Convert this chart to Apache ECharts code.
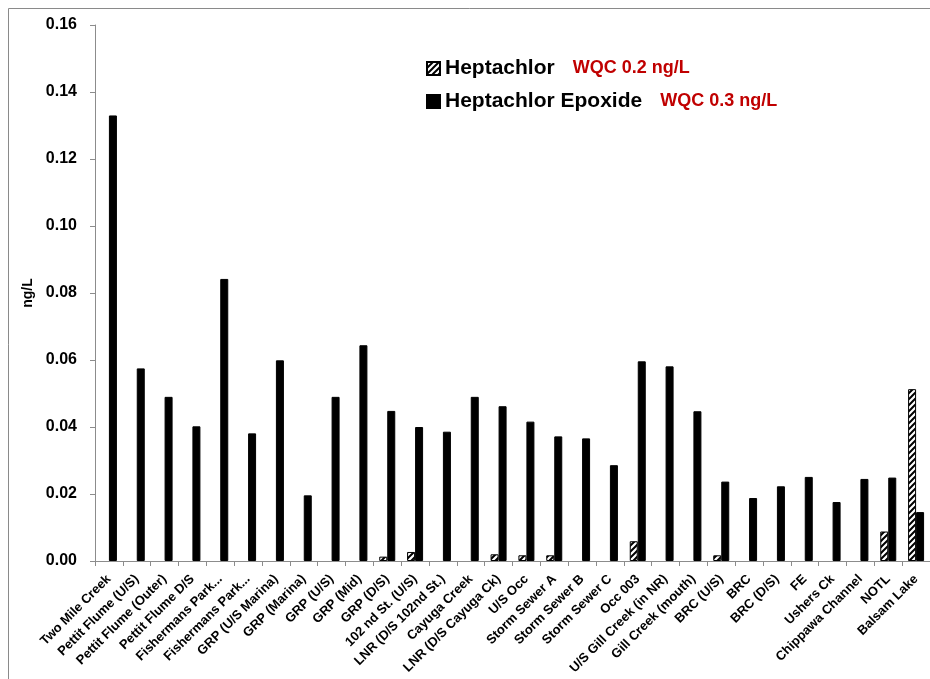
<!DOCTYPE html>
<html>
<head>
<meta charset="utf-8">
<script src="https://cdn.jsdelivr.net/npm/echarts@6/dist/echarts.min.js"></script>
<style>
html,body{margin:0;padding:0;background:#fff;}
#c{width:930px;height:679px;}
</style>
</head>
<body>
<div id="c"></div>
<script>
var categories = ['Two Mile Creek','Pettit Flume (U/S)','Pettit Flume (Outer)','Pettit Flume D/S','Fishermans Park...','Fishermans Park...','GRP (U/S Marina)','GRP (Marina)','GRP (U/S)','GRP (Mid)','GRP (D/S)','102 nd St. (U/S)','LNR (D/S 102nd St.)','Cayuga Creek','LNR (D/S Cayuga Ck)','U/S Occ','Storm Sewer A','Storm Sewer B','Storm Sewer C','Occ 003','U/S Gill Creek (in NR)','Gill Creek (mouth)','BRC (U/S)','BRC','BRC (D/S)','FE','Ushers Ck','Chippawa Channel','NOTL','Balsam Lake'];
var heptachlor = [null,null,null,null,null,null,null,null,null,null,0.0013,0.0027,null,null,0.0020,0.0017,0.0017,null,null,0.0059,null,null,0.0017,null,null,null,null,null,0.0088,0.0513];
var heptachlorEpoxide = [0.1330,0.0575,0.0490,0.0402,0.0842,0.0381,0.0599,0.0196,0.0490,0.0644,0.0448,0.0400,0.0386,0.0490,0.0462,0.0416,0.0372,0.0366,0.0286,0.0596,0.0581,0.0447,0.0237,0.0188,0.0223,0.0251,0.0176,0.0245,0.0249,0.0146];
var seriesNames = ['Heptachlor','Heptachlor Epoxide'];
var wqcLabels = ['WQC 0.2 ng/L','WQC 0.3 ng/L'];
var yTicks = {min:0, max:0.16, interval:0.02};

// hatch pattern
var pc = document.createElement('canvas');
pc.width = 6; pc.height = 6;
var g = pc.getContext('2d');
g.fillStyle = '#fff'; g.fillRect(0,0,6,6);
g.strokeStyle = '#000'; g.lineWidth = 2;
g.beginPath();
g.moveTo(-1,7); g.lineTo(7,-1);
g.moveTo(-4,4); g.lineTo(4,-4);
g.moveTo(2,10); g.lineTo(10,2);
g.stroke();

var FONT = 'Liberation Sans, Arial, sans-serif';
var chart = echarts.init(document.getElementById('c'));
chart.setOption({
  animation:false,
  backgroundColor:'#fff',
  graphic:[{type:'rect', shape:{x:8.5,y:8.5,width:1000,height:1000}, style:{fill:'none', stroke:'#8a8a8a', lineWidth:1}, silent:true}],
  legend:{
    orient:'vertical', left:426, top:58, padding:0, itemWidth:13, itemHeight:13, itemGap:12,
    icon:'rect',
    data:seriesNames,
    formatter:function(name){
      var i = seriesNames.indexOf(name);
      return '{n|' + name + '}{r|' + wqcLabels[i] + '}';
    },
    textStyle:{
      rich:{
        n:{fontFamily:FONT, fontWeight:'bold', fontSize:21, color:'#000', lineHeight:24},
        r:{fontFamily:FONT, fontWeight:'bold', fontSize:18, color:'#c00000', lineHeight:24, padding:[0,0,0,18]}
      }
    }
  },
  grid:{left:95, top:25, width:838, height:536},
  xAxis:{
    type:'category', data:categories,
    axisLine:{lineStyle:{color:'#8c8c8c', width:1}},
    axisTick:{show:true, length:5, lineStyle:{color:'#8c8c8c'}},
    axisLabel:{interval:0, rotate:45, margin:16, fontFamily:FONT, fontWeight:'bold', fontSize:13, color:'#000'}
  },
  yAxis:{
    type:'value', min:yTicks.min, max:yTicks.max, interval:yTicks.interval,
    name:'ng/L', nameLocation:'middle', nameRotate:90, nameGap:60,
    nameTextStyle:{fontFamily:FONT, fontWeight:'bold', fontSize:14, color:'#000'},
    axisLine:{show:true, lineStyle:{color:'#8c8c8c', width:1}},
    axisTick:{show:true, length:5, lineStyle:{color:'#8c8c8c'}},
    splitLine:{show:false},
    axisLabel:{margin:18, fontFamily:FONT, fontWeight:'bold', fontSize:16, color:'#000', formatter:function(v){return v.toFixed(2);}}
  },
  series:[
    {name:seriesNames[0], type:'bar', data:heptachlor, barWidth:8, barGap:'0%',
     itemStyle:{color:{image:pc, repeat:'repeat'}, borderColor:'#000', borderWidth:1}},
    {name:seriesNames[1], type:'bar', data:heptachlorEpoxide, barWidth:8, barGap:'0%',
     itemStyle:{color:'#000', borderColor:'#000', borderWidth:1}}
  ]
});
</script>
</body>
</html>
